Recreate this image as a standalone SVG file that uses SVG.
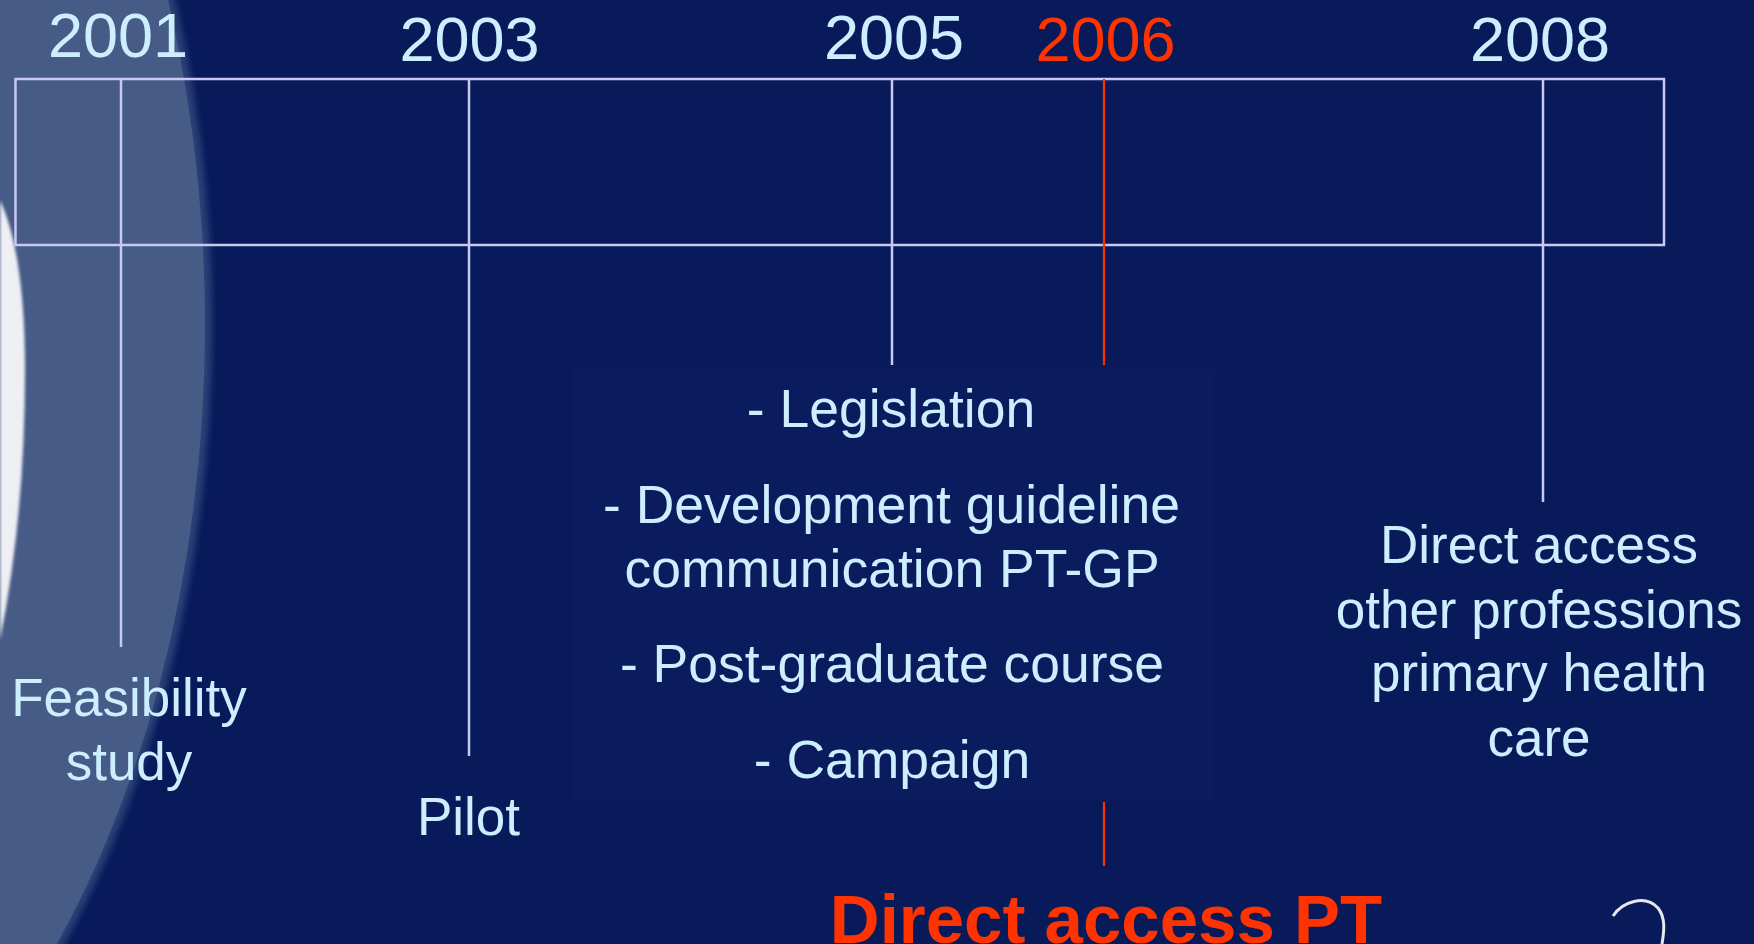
<svg xmlns="http://www.w3.org/2000/svg" width="1754" height="944" viewBox="0 0 1754 944">
<style>
.yr{font-family:"Liberation Sans",Arial,sans-serif;font-size:63px;fill:#CCEEFF;text-anchor:middle}
.lbl{font-family:"Liberation Sans",Arial,sans-serif;font-size:53px;fill:#CCEEFF;text-anchor:middle}
.mid{font-family:"Liberation Sans",Arial,sans-serif;font-size:53.5px;fill:#CCEEFF;text-anchor:middle}
.red{fill:#FF3300}
.ln{stroke:#C8C8F2;stroke-width:2.5;fill:none}
.rl{stroke:#FF3300;stroke-width:2.2;fill:none}
</style>
<defs>
<filter id="soft" x="-10%" y="-10%" width="120%" height="120%"><feGaussianBlur stdDeviation="3"/></filter>
<filter id="soft2" x="-50%" y="-10%" width="200%" height="120%"><feGaussianBlur stdDeviation="1.5"/></filter>
</defs>
<g id="background">
<rect x="0" y="0" width="1754" height="944" fill="#081A5A"/>
<ellipse cx="-400" cy="325" rx="612" ry="950" fill="#2A3F77" filter="url(#soft)"/>
<ellipse cx="-400" cy="325" rx="605" ry="944" fill="#465B86"/>
<path d="M0,200 C16,235 25,290 25,370 C25,460 18,550 0,640 Z" fill="#EEEFF4" filter="url(#soft2)"/>
<rect x="573" y="369" width="641" height="432" fill="#0A1C5D"/>
<path d="M1613,916 C1622,902 1645,894 1658,908 C1666,918 1664,932 1662,944" fill="none" stroke="#E6E8F0" stroke-width="3"/>
</g>
<g id="connectors">
<rect class="ln" x="15.5" y="79" width="1648.5" height="166"/>
<line class="ln" x1="121" y1="79" x2="121" y2="647"/>
<line class="ln" x1="469" y1="79" x2="469" y2="756"/>
<line class="ln" x1="892" y1="79" x2="892" y2="365"/>
<line class="rl" x1="1104" y1="79" x2="1104" y2="365"/>
<line class="rl" x1="1104" y1="802" x2="1104" y2="866"/>
<line class="ln" x1="1543" y1="79" x2="1543" y2="502"/>
</g>
<g id="y2001"><text class="yr" x="118" y="57">2001</text></g>
<g id="y2003"><text class="yr" x="469.5" y="60.5">2003</text></g>
<g id="y2005"><text class="yr" x="894" y="59">2005</text></g>
<g id="y2006"><text class="yr red" x="1105.5" y="60.5">2006</text></g>
<g id="y2008"><text class="yr" x="1540" y="60.5">2008</text></g>
<g id="feasibility"><text class="lbl" x="129" y="716">Feasibility</text><text class="lbl" x="129" y="780">study</text></g>
<g id="pilot"><text class="lbl" x="468.5" y="834.5">Pilot</text></g>
<g id="activities">
<text class="mid" x="891" y="427">- Legislation</text>
<text class="mid" x="891.5" y="523">- Development guideline</text>
<text class="mid" x="892" y="587">communication PT-GP</text>
<text class="mid" x="892" y="682">- Post-graduate course</text>
<text class="mid" x="892" y="778">- Campaign</text>
</g>
<g id="direct-access-other">
<text class="lbl" x="1539" y="563">Direct access</text>
<text class="lbl" x="1539" y="627.5">other professions</text>
<text class="lbl" x="1539" y="691">primary health</text>
<text class="lbl" x="1539" y="755.5">care</text>
</g>
<g id="direct-access-pt"><text x="1106" y="943" font-family="Liberation Sans, Arial, sans-serif" font-size="69" font-weight="bold" fill="#FF3300" text-anchor="middle">Direct access PT</text></g>
</svg>
